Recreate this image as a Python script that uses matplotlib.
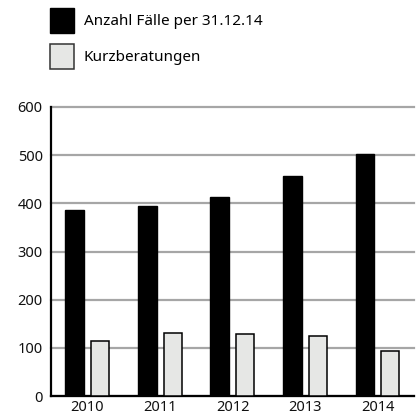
import numpy as np
import matplotlib.pyplot as plt
from matplotlib.patches import Patch

plt.rcParams['font.family'] = ['Noto Sans', 'DejaVu Sans']

years = ["2010", "2011", "2012", "2013", "2014"]
faelle = [387, 394, 413, 456, 502]
kurz = [115, 130, 129, 124, 94]
yticks = [0, 100, 200, 300, 400, 500, 600]

fig = plt.figure(figsize=(4.16, 4.18), dpi=100)
ax = fig.add_axes([51 / 416, 22 / 418, 363 / 416, 289 / 418])

x = np.arange(len(years))
ax.bar(x - 0.175, faelle, width=0.26, color='black', edgecolor='black', zorder=3)
ax.bar(x + 0.175, kurz, width=0.25, color='#e6e7e5', edgecolor='black', linewidth=1.1, zorder=3)

ax.set_xlim(-0.5, 4.5)
ax.set_ylim(0, 600)
ax.set_yticks(yticks)
ax.set_xticks(x)
ax.set_xticklabels(years)
ax.yaxis.grid(True, color='#a6a6a6', linewidth=1.6)
for gl in ax.get_ygridlines():
    gl.set_clip_on(False)
ax.set_axisbelow(True)
ax.tick_params(axis='both', length=0, labelsize=10.5, colors='#111111')
ax.tick_params(axis='y', pad=6)
ax.tick_params(axis='x', pad=3)
for s in ['top', 'right']:
    ax.spines[s].set_visible(False)
ax.spines['left'].set_linewidth(1.6)
ax.spines['bottom'].set_linewidth(1.6)

handles = [Patch(facecolor='black', edgecolor='black'),
           Patch(facecolor='#e6e7e5', edgecolor='#333333', linewidth=1.1)]
fig.legend(handles, ["Anzahl Fälle per 31.12.14", "Kurzberatungen"],
           loc='upper left', bbox_to_anchor=(50 / 416, 1 - 8 / 418),
           frameon=False, fontsize=11, handlelength=1.57, handleheight=2.14,
           handletextpad=0.65, labelspacing=0.69, borderpad=0, borderaxespad=0)

plt.savefig("out.png", dpi=100)
